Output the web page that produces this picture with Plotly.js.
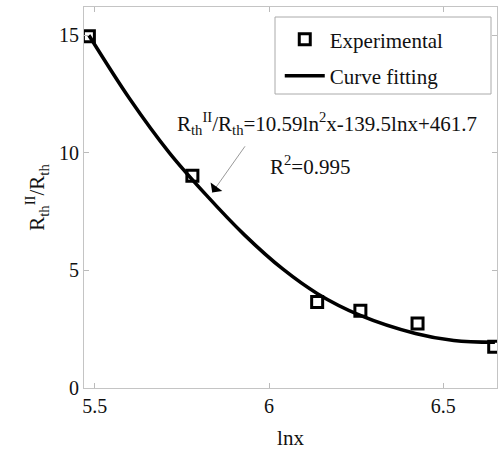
<!DOCTYPE html>
<html>
<head>
<meta charset="utf-8">
<script src="https://cdn.plot.ly/plotly-3.0.1.min.js"></script>
<style>html,body{margin:0;padding:0;background:#fff;}#chart{width:502px;height:454px;}</style>
</head>
<body>
<div id="chart"></div>
<script>
// Experimental points
var expX = [5.483, 5.78, 6.138, 6.262, 6.426, 6.646];
var expY = [14.96, 9.03, 3.66, 3.28, 2.74, 1.75];
// Fitted curve
var fitX = [5.483, 5.6, 5.714, 5.82, 5.93, 6.04, 6.14, 6.26, 6.42, 6.53, 6.648];
var fitY = [15.0, 12.3, 10.0, 8.2, 6.5, 5.05, 4.0, 3.1, 2.32, 2.02, 1.94];
var xTicks = [5.5, 6, 6.5];
var xTickText = ['5.5', '6', '6.5'];
var yTicks = [0, 5, 10, 15];
var yTickText = ['0', '5', '10', '15'];
var seriesNames = ['Experimental', 'Curve fitting'];
var eqText = 'R<sub>th</sub><sup>II</sup>/R<sub>th</sub>=10.59ln<sup>2</sup>x-139.5lnx+461.7';
var r2Text = 'R<sup>2</sup>=0.995';

var font = "'Liberation Serif', 'Times New Roman', serif";
var traces = [
  {x: expX, y: expY, type: 'scatter', mode: 'markers', name: seriesNames[0], legendgroup: 'a',
   marker: {symbol: 'square-open', size: 11, color: '#000', line: {width: 3, color: '#000'}}},
  {x: fitX, y: fitY, type: 'scatter', mode: 'lines', name: seriesNames[1], legendgroup: 'b',
   line: {color: '#000', width: 3.5, shape: 'spline', smoothing: 1}}
];
var layout = {
  width: 502, height: 454,
  margin: {l: 84, r: 5, t: 7, b: 66},
  paper_bgcolor: '#fff', plot_bgcolor: '#fff',
  font: {family: font, size: 21, color: '#111'},
  showlegend: true,
  legend: {x: 0.474, y: 0.968, xanchor: 'left', yanchor: 'top', bgcolor: 'rgba(0,0,0,0)',
           borderwidth: 0, font: {family: font, size: 21}, traceorder: 'grouped',
           tracegroupgap: 6, itemwidth: 40},
  shapes: [
    {type: 'rect', xref: 'paper', yref: 'paper', x0: (275-84)/413, x1: (491-84)/413,
     y0: (388-94)/381, y1: (388-17)/381, line: {color: '#aaa', width: 1}, fillcolor: '#fff', layer: 'below'}
  ],
  xaxis: {range: [5.469, 6.654], tickvals: xTicks, ticktext: xTickText, ticks: 'inside', ticklen: 5,
          tickcolor: '#bbb', showline: true, linecolor: '#c4c4c4', linewidth: 1, mirror: 'ticks',
          showgrid: false, zeroline: false, tickfont: {family: font, size: 20},
          title: {text: 'lnx', font: {family: font, size: 21}, standoff: 14}},
  yaxis: {range: [0, 16.2], tickvals: yTicks, ticktext: yTickText, ticks: 'inside', ticklen: 5,
          tickcolor: '#bbb', showline: true, linecolor: '#c4c4c4', linewidth: 1, mirror: 'ticks',
          showgrid: false, zeroline: false, tickfont: {family: font, size: 20},
          title: {text: 'R<sub>th</sub><sup>II</sup>/R<sub>th</sub>', font: {family: font, size: 21}, standoff: 8}},
  annotations: [
    {x: 6.166, y: 11.23, xref: 'x', yref: 'y', text: eqText, showarrow: false,
     font: {family: font, size: 21, color: '#111'}},
    {x: 6.117, y: 9.45, xref: 'x', yref: 'y', text: r2Text, showarrow: false,
     font: {family: font, size: 21, color: '#111'}},
    {x: 5.837, y: 8.31, xref: 'x', yref: 'y', ax: 5.934, ay: 10.34, axref: 'x', ayref: 'y',
     text: '', showarrow: true, arrowhead: 0, arrowwidth: 1, arrowcolor: '#999'},
    {x: 5.837, y: 8.31, xref: 'x', yref: 'y', ax: 5.852, ay: 8.62, axref: 'x', ayref: 'y',
     text: '', showarrow: true, arrowhead: 1, arrowsize: 2, arrowwidth: 1.2, arrowcolor: '#000'}
  ]
};
Plotly.newPlot('chart', traces, layout, {displayModeBar: false, staticPlot: true});
</script>
</body>
</html>
